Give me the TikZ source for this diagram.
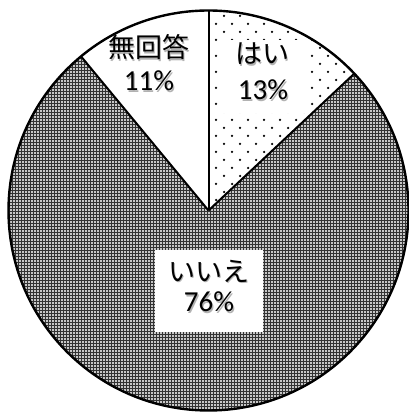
\documentclass[tikz,border=0pt]{standalone}
\usepackage{fontspec}
\setmainfont{Carlito}
\newfontfamily\jpfont{Noto Sans CJK JP}
\usetikzlibrary{patterns}
\tikzset{
  txt/.style={inner sep=0pt, text=black},
  txtshadow/.style={inner sep=0pt, text=black!30},
  outline/.style={line width=2.4pt, draw=black},
  radial/.style={line width=2pt, draw=black},
  labelbox/.style={fill=white, draw=none},
}
\newcommand\lbl[4]{%
  \node[txtshadow] at ({#2+1.3},{#3-1.3}) {#4};
  \node[txt] (#1) at (#2,#3) {#4};}
\newcommand\jpsize{\fontsize{27}{31}\selectfont\jpfont}
\newcommand\numsize{\fontsize{29}{33}\selectfont}
\begin{document}
\begin{tikzpicture}[x=1pt,y=1pt]
\useasboundingbox (0,0) rectangle (409,412);
\coordinate (C) at (208.5,201.5);
% いいえ slice
\fill[black!22] (C) -- ++(43.2:200) arc[start angle=43.2,end angle=-230.4,radius=200] -- cycle;
\fill[pattern=grid, pattern color=black!80] (C) -- ++(43.2:200) arc[start angle=43.2,end angle=-230.4,radius=200] -- cycle;
% はい slice (dots)
\begin{scope}
  \clip (C) -- ++(90:200) arc[start angle=90,end angle=43.2,radius=200] -- cycle;
  \foreach \j in {0,...,26}{
    \foreach \i in {-1,...,10}{
      \fill[black] ({216+16*\i+8*mod(\j,2)},{196+8*\j}) circle (1.25);
    }
  }
\end{scope}
% label boxes
\fill[labelbox] (220,299) rectangle (309,372);
\fill[labelbox] (155,80) rectangle (263,162);
% outlines
\draw[radial] (C) -- ++(90:200);
\draw[radial] (C) -- ++(43.2:200);
\draw[radial] (C) -- ++(129.6:200);
\draw[outline] (C) circle (200);
% labels
\lbl{noans}{149}{364.5}{\jpsize 無回答}
\lbl{noansp}{149}{331}{\numsize 11\%}
\lbl{yes}{262}{358}{\jpsize はい}
\lbl{yesp}{263}{322}{\numsize 13\%}
\lbl{no}{209}{141}{\jpsize いいえ}
\lbl{nop}{209}{110}{\numsize 76\%}
\end{tikzpicture}
\end{document}
